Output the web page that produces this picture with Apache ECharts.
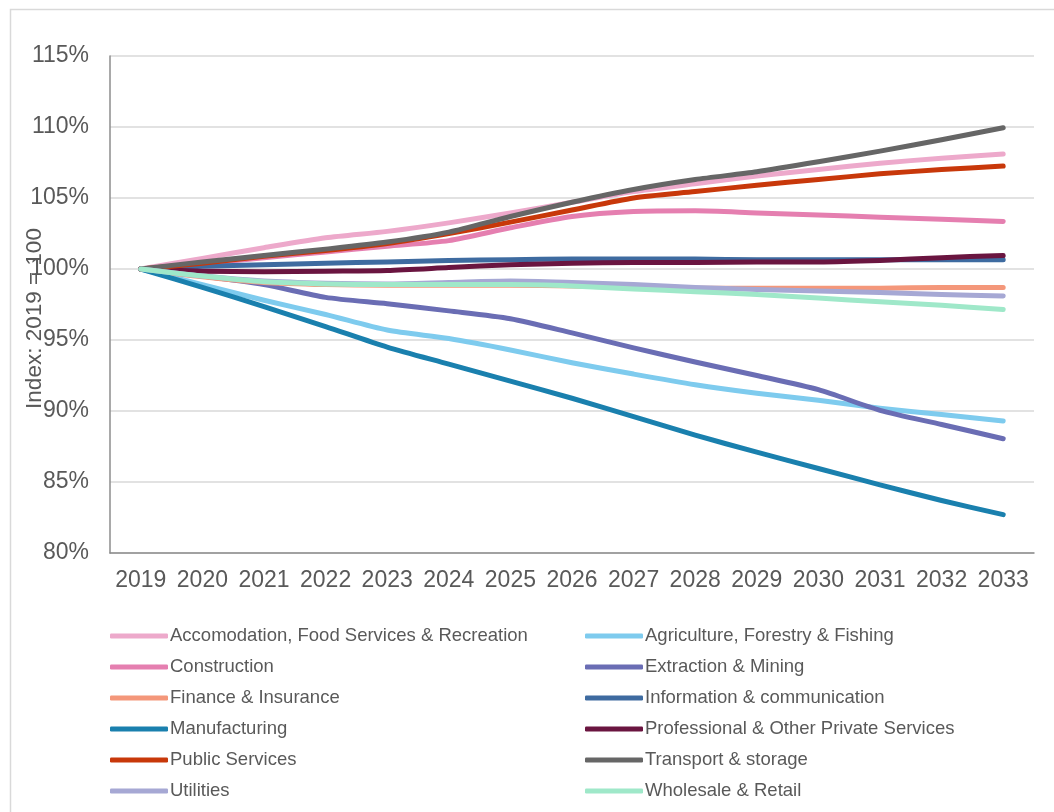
<!DOCTYPE html>
<html>
<head>
<meta charset="utf-8">
<script src="https://cdn.jsdelivr.net/npm/echarts@6/dist/echarts.min.js"></script>
<style>
html,body{margin:0;padding:0;background:#fff;}
#chart{width:1054px;height:812px;}
</style>
</head>
<body>
<div id="chart"></div>
<script>
const years = ['2019','2020','2021','2022','2023','2024','2025','2026','2027','2028','2029','2030','2031','2032','2033'];

const accommodation = [100, 100.75, 101.5, 102.2, 102.65, 103.25, 103.95, 104.7, 105.45, 106.0, 106.55, 107.0, 107.45, 107.8, 108.1];
const agriculture   = [100, 98.9, 97.8, 96.8, 95.7, 95.1, 94.3, 93.4, 92.6, 91.85, 91.25, 90.75, 90.2, 89.75, 89.3];
const construction  = [100, 100.35, 100.8, 101.2, 101.6, 102.0, 102.9, 103.7, 104.05, 104.1, 103.95, 103.8, 103.65, 103.5, 103.35];
const extraction    = [100, 99.5, 98.9, 98.0, 97.55, 97.05, 96.5, 95.5, 94.45, 93.45, 92.5, 91.5, 90.05, 89.05, 88.05];
const finance       = [100, 99.45, 99.05, 98.9, 98.85, 98.85, 98.85, 98.8, 98.7, 98.65, 98.65, 98.65, 98.65, 98.7, 98.7];
const infoComm      = [100, 100.2, 100.3, 100.4, 100.5, 100.6, 100.65, 100.7, 100.7, 100.7, 100.65, 100.65, 100.65, 100.65, 100.65];
const manufacturing = [100, 98.7, 97.35, 95.95, 94.5, 93.3, 92.1, 90.9, 89.6, 88.3, 87.1, 85.95, 84.8, 83.7, 82.7];
const professional  = [100, 99.85, 99.8, 99.85, 99.9, 100.1, 100.3, 100.4, 100.45, 100.45, 100.5, 100.5, 100.6, 100.8, 100.95];
const publicServ    = [100, 100.4, 100.9, 101.3, 101.8, 102.5, 103.3, 104.15, 105.0, 105.45, 105.9, 106.3, 106.7, 107.0, 107.25];
const transport     = [100, 100.5, 100.95, 101.4, 101.9, 102.6, 103.7, 104.7, 105.6, 106.3, 106.85, 107.55, 108.3, 109.1, 109.95];
const utilities     = [100, 99.5, 99.15, 99.0, 98.95, 99.05, 99.15, 99.05, 98.9, 98.7, 98.55, 98.45, 98.35, 98.2, 98.1];
const wholesale     = [100, 99.5, 99.1, 98.95, 98.9, 98.9, 98.9, 98.8, 98.6, 98.4, 98.2, 97.95, 97.7, 97.45, 97.15];

const yTicks = ['80%','85%','90%','95%','100%','105%','110%','115%'];

const seriesDefs = [
  ['Accomodation, Food Services & Recreation', accommodation, '#EDA9CB'],
  ['Agriculture, Forestry & Fishing', agriculture, '#7ECBEE'],
  ['Construction', construction, '#E57FB0'],
  ['Extraction & Mining', extraction, '#6A6DB4'],
  ['Finance & Insurance', finance, '#F4977A'],
  ['Information & communication', infoComm, '#3E6BA0'],
  ['Manufacturing', manufacturing, '#1A80AE'],
  ['Professional & Other Private Services', professional, '#6A1540'],
  ['Public Services', publicServ, '#C8380A'],
  ['Transport & storage', transport, '#666666'],
  ['Utilities', utilities, '#A6A8D4'],
  ['Wholesale & Retail', wholesale, '#9FE8C9']
];

const leftNames = seriesDefs.filter((d,i)=>i%2===0).map(d=>d[0]);
const rightNames = seriesDefs.filter((d,i)=>i%2===1).map(d=>d[0]);

const FONT = '"Liberation Sans", Arial, sans-serif';
const TXT = '#595959';

const legendBase = {
  orient: 'vertical',
  top: 621,
  itemWidth: 58,
  itemHeight: 5,
  itemGap: 11,
  icon: 'roundRect',
  textStyle: {fontFamily: FONT, fontSize: 18.5, color: TXT, lineHeight: 20, padding: [0,0,0,-3]}
};

const chart = echarts.init(document.getElementById('chart'), null, {renderer: 'canvas'});
chart.setOption({
  animation: false,
  backgroundColor: '#fff',
  graphic: [{
    type: 'rect', left: 8, top: 7, z: -10,
    shape: {width: 1070, height: 830},
    style: {fill: 'none', stroke: '#d9d9d9', lineWidth: 1.5}
  }],
  grid: {left: 110, right: 20, top: 56, bottom: 259, outerBoundsMode: 'none', containLabel: false},
  legend: [
    Object.assign({}, legendBase, {left: 105, data: leftNames}),
    Object.assign({}, legendBase, {left: 580, data: rightNames})
  ],
  xAxis: {
    type: 'category',
    data: years,
    boundaryGap: true,
    axisLine: {lineStyle: {color: '#8c8c8c', width: 1.5}},
    axisTick: {show: false},
    axisLabel: {fontFamily: FONT, fontSize: 23, color: TXT, margin: 16, interval: 0}
  },
  yAxis: {
    type: 'value',
    min: 80, max: 115, interval: 5,
    name: 'Index: 2019 = 100',
    nameLocation: 'middle',
    nameRotate: 90,
    nameGap: 64,
    nameMoveOverlap: false,
    nameTextStyle: {fontFamily: FONT, fontSize: 22.5, color: TXT, padding: [0, 28, 0, 0]},
    axisLine: {show: true, lineStyle: {color: '#8c8c8c', width: 1.5}},
    axisTick: {show: false},
    splitLine: {lineStyle: {color: '#d9d9d9', width: 1.5}},
    axisLabel: {
      fontFamily: FONT, fontSize: 23, color: TXT, margin: 21,
      formatter: function (v) { return yTicks[Math.round((v - 80) / 5)] || ''; }
    }
  },
  series: seriesDefs.map(d => ({
    name: d[0],
    type: 'line',
    data: d[1],
    smooth: 0.25,
    showSymbol: false,
    symbol: 'none',
    color: d[2],
    lineStyle: {width: 5, color: d[2], cap: 'round', join: 'round'}
  }))
});
</script>
</body>
</html>
